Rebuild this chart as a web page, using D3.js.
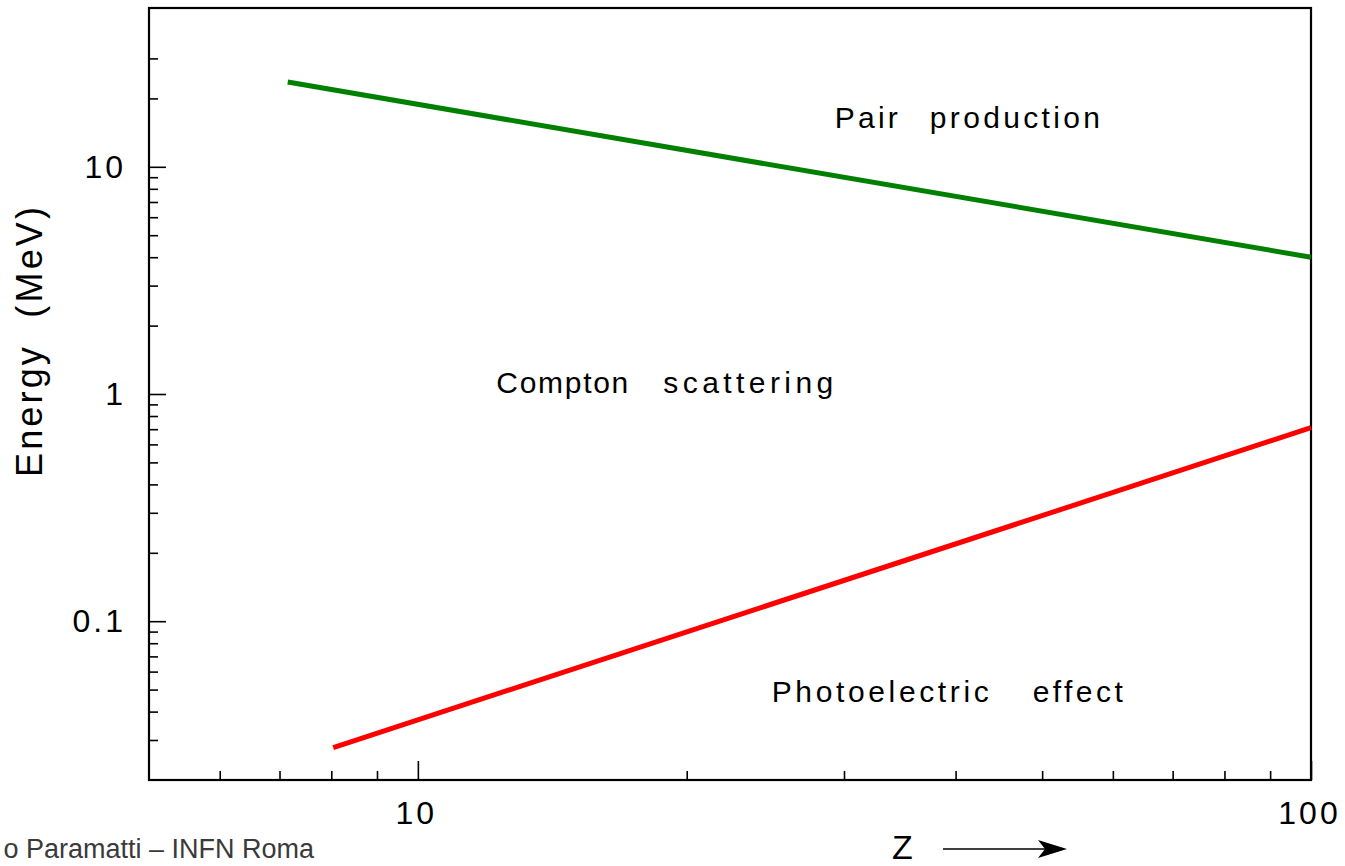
<!DOCTYPE html>
<html>
<head>
<meta charset="utf-8">
<script src="https://cdn.jsdelivr.net/npm/d3@7"></script>
<style>
  html, body { margin: 0; padding: 0; background: #fff; }
  svg { display: block; }
  text { font-family: "Liberation Sans", Arial, Helvetica, sans-serif; }
</style>
</head>
<body>
<svg id="chart" width="1345" height="866"></svg>
<script>
// ---- data ----
const pairZ = [7.15, 100];          // Compton / pair boundary
const pairE = [23.6, 4.0];
const photoZ = [8.04, 100];         // photoelectric / Compton boundary
const photoE = [0.0278, 0.711];

const xMajorTicks = [10, 100];
const xMinorTicks = [6, 7, 8, 9, 20, 30, 40, 50, 60, 70, 80, 90];
const yMajorTicks = [0.1, 1, 10];
const yMajorLabels = ["0.1", "1", "10"];
const yMinorTicks = [0.03, 0.04, 0.05, 0.06, 0.07, 0.08, 0.09,
                     0.2, 0.3, 0.4, 0.5, 0.6, 0.7, 0.8, 0.9,
                     2, 3, 4, 5, 6, 7, 8, 9, 20, 30];

const regionWords = [["Pair", "production"], ["Compton", "scattering"], ["Photoelectric", "effect"]];
const regionZ = [29.3, 12.24, 24.9];
const regionE = [14.8, 1.01, 0.0441];
const yTitle = "Energy  (MeV)";
const xTitle = "Z";
const footer = "o Paramatti \u2013 INFN Roma";

// ---- layout ----
const svg = d3.select("#chart");
const L = 149, R = 1311, T = 8, B = 780;

const x = d3.scaleLog().domain([5, 100]).range([L, R]);
const y = d3.scaleLog().domain([0.02, 50]).range([B, T]);

// minor x ticks
svg.append("g").attr("transform", `translate(0,${B})`)
  .call(d3.axisBottom(x).tickValues(xMinorTicks).tickSizeInner(-9).tickSizeOuter(0).tickFormat(""))
  .call(g => g.select(".domain").remove())
  .call(g => g.selectAll("line").attr("stroke", "#000").attr("stroke-width", 1.6));

// major x ticks
svg.append("g").attr("transform", `translate(0,${B})`)
  .call(d3.axisBottom(x).tickValues(xMajorTicks).tickSizeInner(-19).tickSizeOuter(0)
        .tickPadding(21).tickFormat(d3.format("d")))
  .call(g => g.select(".domain").remove())
  .call(g => g.selectAll("line").attr("stroke", "#000").attr("stroke-width", 1.6))
  .call(g => g.selectAll("text").attr("fill", "#000").attr("font-size", 32)
        .attr("letter-spacing", "3px").attr("font-family", "Liberation Sans, Arial, sans-serif")
        .attr("dx", "-2"));

// minor y ticks
svg.append("g").attr("transform", `translate(${L},0)`)
  .call(d3.axisLeft(y).tickValues(yMinorTicks).tickSizeInner(-9).tickSizeOuter(0).tickFormat(""))
  .call(g => g.select(".domain").remove())
  .call(g => g.selectAll("line").attr("stroke", "#000").attr("stroke-width", 1.6));

// major y ticks
svg.append("g").attr("transform", `translate(${L},0)`)
  .call(d3.axisLeft(y).tickValues(yMajorTicks).tickSizeInner(-17).tickSizeOuter(0)
        .tickPadding(23).tickFormat((d, i) => yMajorLabels[i]))
  .call(g => g.select(".domain").remove())
  .call(g => g.selectAll("line").attr("stroke", "#000").attr("stroke-width", 1.6))
  .call(g => g.selectAll("text").attr("fill", "#000").attr("font-size", 32)
        .attr("letter-spacing", "3px").attr("font-family", "Liberation Sans, Arial, sans-serif"));

// frame
svg.append("rect")
  .attr("x", L).attr("y", T).attr("width", R - L).attr("height", B - T)
  .attr("fill", "none").attr("stroke", "#000").attr("stroke-width", 2.2);

// lines
const line = d3.line().x(d => x(d[0])).y(d => y(d[1]));
svg.append("path")
  .datum(pairZ.map((z, i) => [z, pairE[i]]))
  .attr("d", line).attr("fill", "none").attr("stroke", "#008000").attr("stroke-width", 5);
svg.append("path")
  .datum(photoZ.map((z, i) => [z, photoE[i]]))
  .attr("d", line).attr("fill", "none").attr("stroke", "#ff0000").attr("stroke-width", 5);

// region labels (two words each, widths/gaps matched to the reference)
const wordLayout = [[{dx: 0, w: 63}, {dx: 95, w: 170}],
                    [{dx: 0, w: 132}, {dx: 167, w: 170}],
                    [{dx: 0, w: 217}, {dx: 261, w: 90}]];
regionWords.forEach((words, i) => {
  const x0 = x(regionZ[i]), y0 = y(regionE[i]);
  const t = svg.append("text")
    .attr("y", y0)
    .attr("font-size", 30)
    .attr("fill", "#000");
  words.forEach((wd, j) => {
    t.append("tspan")
      .attr("x", x0 + wordLayout[i][j].dx)
      .attr("textLength", wordLayout[i][j].w)
      .attr("lengthAdjust", "spacing")
      .text(wd);
  });
});

// y title
svg.append("text")
  .attr("transform", "translate(42,477) rotate(-90)")
  .attr("font-size", 36)
  .attr("fill", "#000")
  .style("white-space", "pre")
  .attr("textLength", 270)
  .attr("lengthAdjust", "spacing")
  .text(yTitle);

// x title with arrow
svg.append("text")
  .attr("x", 892).attr("y", 859)
  .attr("font-size", 34)
  .attr("fill", "#000")
  .text(xTitle);
svg.append("line")
  .attr("x1", 943).attr("x2", 1046).attr("y1", 849).attr("y2", 849)
  .attr("stroke", "#000").attr("stroke-width", 1.5);
svg.append("path")
  .attr("d", "M1067,849 L1038,840 L1045,849 L1038,858 Z")
  .attr("fill", "#000");

// footer
svg.append("text")
  .attr("x", 314).attr("y", 858)
  .attr("text-anchor", "end")
  .attr("font-size", 27)
  .attr("fill", "#3a3a3a")
  .text(footer);
</script>
</body>
</html>
